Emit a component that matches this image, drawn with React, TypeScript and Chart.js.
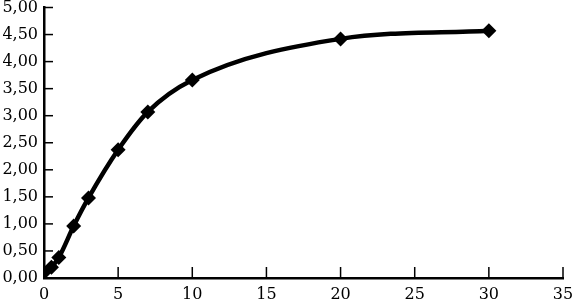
import React, { useEffect, useRef } from "react";
import { Chart, registerables } from "chart.js";

Chart.register(...registerables);

const xValues = [0, 0.5, 1, 2, 3, 5, 7, 10, 20, 30];
const yValues = [0.1, 0.2, 0.38, 0.96, 1.48, 2.37, 3.07, 3.66, 4.42, 4.57];
const xTicks = [0, 5, 10, 15, 20, 25, 30, 35];
const yTicks = [0, 0.5, 1, 1.5, 2, 2.5, 3, 3.5, 4, 4.5, 5];

const fmt = (v: number) => v.toFixed(2).replace(".", ",");

const innerTicks = {
  id: "innerTicks",
  afterDraw(chart: any) {
    const { ctx, chartArea, scales } = chart;
    ctx.save();
    ctx.strokeStyle = "#000";
    ctx.lineWidth = 1.5;
    xTicks.forEach((v) => {
      if (v === 0) return;
      const px = scales.x.getPixelForValue(v);
      ctx.beginPath();
      ctx.moveTo(px, chartArea.bottom);
      ctx.lineTo(px, chartArea.bottom - 11);
      ctx.stroke();
    });
    yTicks.forEach((v) => {
      if (v === 0) return;
      const py = scales.y.getPixelForValue(v);
      ctx.beginPath();
      ctx.moveTo(chartArea.left, py);
      ctx.lineTo(chartArea.left + 9, py);
      ctx.stroke();
    });
    ctx.restore();
  },
};

export default function App() {
  const ref = useRef<HTMLCanvasElement>(null);
  useEffect(() => {
    document.body.style.margin = "0";
    const chart = new Chart(ref.current!, {
      type: "line",
      data: {
        datasets: [
          {
            data: xValues.map((x, i) => ({ x, y: yValues[i] })),
            borderColor: "#000",
            backgroundColor: "#000",
            borderWidth: 4.5,
            cubicInterpolationMode: "monotone",
            pointStyle: "rectRot",
            pointRadius: 7.5,
            pointBackgroundColor: "#000",
            pointBorderColor: "#000",
            pointBorderWidth: 0,
          },
        ],
      },
      options: {
        animation: false,
        responsive: false,
        layout: { padding: { top: 7, right: 11, left: 0, bottom: 0 } },
        plugins: { legend: { display: false }, tooltip: { enabled: false } },
        scales: {
          x: {
            type: "linear",
            min: 0,
            max: 35,
            afterBuildTicks: (s: any) => {
              s.ticks = xTicks.map((v) => ({ value: v }));
            },
            afterFit: (s: any) => {
              s.height = 25;
              s.paddingLeft = 0;
              s.paddingRight = 0;
            },
            grid: { display: false, drawTicks: false },
            border: { display: true, color: "#000", width: 2.5 },
            ticks: {
              color: "#000",
              padding: 9,
              font: { family: "DejaVu Serif", size: 16, lineHeight: 1 },
              callback: (v: any) => String(v),
            },
          },
          y: {
            type: "linear",
            min: 0,
            max: 5,
            afterBuildTicks: (s: any) => {
              s.ticks = yTicks.map((v) => ({ value: v }));
            },
            afterFit: (s: any) => {
              s.width = 44;
              s.paddingTop = 0;
              s.paddingBottom = 0;
            },
            grid: { display: false, drawTicks: false },
            border: { display: true, color: "#000", width: 2.5 },
            ticks: {
              color: "#000",
              padding: 6,
              font: { family: "DejaVu Serif", size: 16, lineHeight: 1 },
              callback: (v: any) => fmt(Number(v)),
            },
          },
        },
      },
      plugins: [innerTicks],
    });
    return () => chart.destroy();
  }, []);
  return (
    <div style={{ width: 574, height: 303 }}>
      <canvas ref={ref} width={574} height={303} />
    </div>
  );
}
